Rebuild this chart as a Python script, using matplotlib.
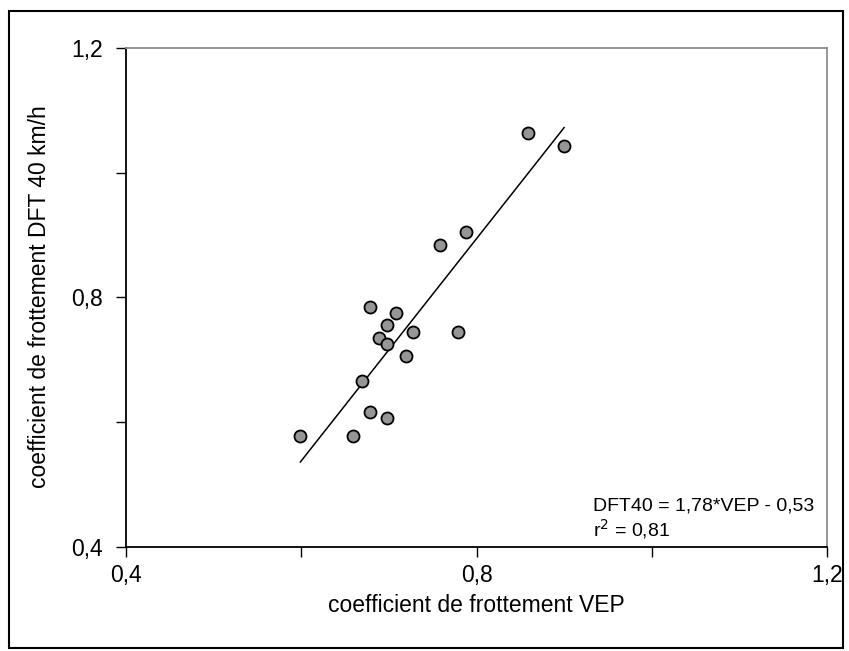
import matplotlib
matplotlib.use("Agg")
import matplotlib.pyplot as plt
from matplotlib.patches import Rectangle
from matplotlib.ticker import FixedLocator, FuncFormatter

plt.rcParams['font.family'] = ['Liberation Sans', 'DejaVu Sans']

vep = [0.599, 0.659, 0.679, 0.698, 0.669, 0.719, 0.689, 0.698, 0.698,
       0.679, 0.708, 0.728, 0.779, 0.758, 0.788, 0.859, 0.900]
dft40 = [0.578, 0.578, 0.616, 0.606, 0.666, 0.706, 0.735, 0.725, 0.755,
         0.785, 0.775, 0.745, 0.745, 0.884, 0.904, 1.063, 1.043]
slope = 1.78
intercept = -0.53
r2 = 0.81

W, H = 849, 651
fig = plt.figure(figsize=(W / 100, H / 100), dpi=100)
ax = fig.add_axes([126 / W, 1 - 547 / H, (827 - 126) / W, (547 - 47.7) / H])

xmin, xmax = min(vep), max(vep)
ax.plot([xmin, xmax], [slope * xmin + intercept, slope * xmax + intercept],
        color='black', lw=1.1, zorder=2)
ax.scatter(vep, dft40, s=75, facecolor='#969696', edgecolor='black',
           linewidths=1.3, zorder=3)

ax.set_xlim(0.4, 1.2)
ax.set_ylim(0.4, 1.2)
major = [0.4, 0.8, 1.2]
minor = [0.6, 1.0]
fmt = FuncFormatter(lambda v, p: f"{v:.1f}".replace('.', ','))
for a in (ax.xaxis, ax.yaxis):
    a.set_major_locator(FixedLocator(major))
    a.set_minor_locator(FixedLocator(minor))
    a.set_major_formatter(fmt)
ax.tick_params(which='both', direction='out', length=7, width=1, colors='black',
               labelsize=16.5)
ax.tick_params(axis='y', which='major', pad=10)
ax.tick_params(axis='x', which='major', pad=5)
ax.tick_params(which='minor', labelleft=False, labelbottom=False)

ax.spines['left'].set_color('black')
ax.spines['bottom'].set_color('black')
ax.spines['top'].set_color('#8c8c8c')
ax.spines['right'].set_color('#8c8c8c')
for s in ax.spines.values():
    s.set_linewidth(1.3)

fig.text(476 / W, 1 - 606 / H, 'coefficient de frottement VEP', fontsize=16.5,
         ha='center', va='center')
fig.text(40 / W, 1 - 297 / H, 'coefficient de frottement DFT 40 km/h',
         fontsize=16.5, rotation=90, ha='center', va='center')

ax.text(0.933, 0.465,
        f"DFT40 = {slope:.2f}*VEP - {abs(intercept):.2f}".replace('.', ','),
        fontsize=14, ha='left', va='center')
ax.text(0.933, 0.428,
        f"r$^2$ = {r2:.2f}".replace('.', ','),
        fontsize=14, ha='left', va='center')

fig.patches.append(Rectangle((9 / W, 3 / H), (843 - 9) / W, (640 - 3) / H,
                             transform=fig.transFigure, fill=False,
                             edgecolor='black', lw=1.5))

fig.savefig('out.png', dpi=100)
